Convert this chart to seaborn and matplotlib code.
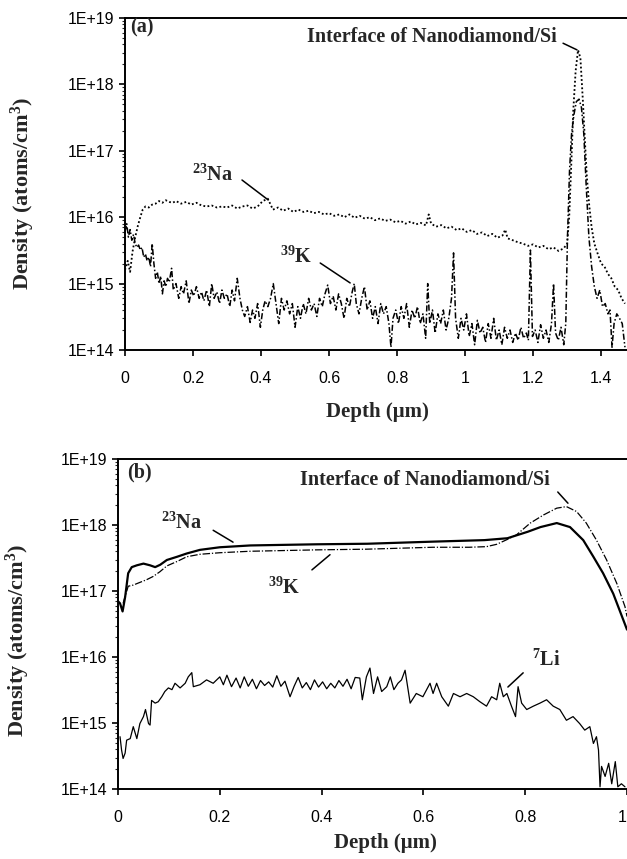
import numpy as np
import matplotlib
matplotlib.use("Agg")
import matplotlib.pyplot as plt
import seaborn as sns
from matplotlib.ticker import LogLocator, NullFormatter

# ---- panel (a): as-deposited film, depth (um) vs density (atoms/cm3) ----
a_na_depth = [0.000, 0.008, 0.015, 0.022, 0.030, 0.038, 0.045, 0.052, 0.060, 0.070, 0.080, 0.090,
              0.100, 0.110, 0.120, 0.130, 0.140, 0.150, 0.165, 0.180, 0.195, 0.210, 0.225, 0.240,
              0.255, 0.270, 0.285, 0.300, 0.315, 0.330, 0.345, 0.360, 0.375, 0.390, 0.405, 0.420,
              0.435, 0.450, 0.465, 0.480, 0.495, 0.510, 0.525, 0.540, 0.555, 0.570, 0.585, 0.600,
              0.615, 0.630, 0.645, 0.660, 0.675, 0.690, 0.705, 0.720, 0.735, 0.750, 0.765, 0.780,
              0.795, 0.810, 0.825, 0.840, 0.855, 0.870, 0.885, 0.893, 0.900, 0.915, 0.930, 0.945,
              0.960, 0.975, 0.990, 1.005, 1.020, 1.035, 1.050, 1.065, 1.080, 1.095, 1.110, 1.118,
              1.125, 1.140, 1.155, 1.170, 1.185, 1.200, 1.215, 1.230, 1.245, 1.260, 1.275, 1.290,
              1.300, 1.306, 1.312, 1.318, 1.325, 1.332, 1.339, 1.346, 1.352, 1.358, 1.365, 1.372,
              1.380, 1.390, 1.400, 1.410, 1.420, 1.430, 1.440, 1.450, 1.460, 1.470]
a_na_dens = [1.6e15, 2.2e15, 1.5e15, 3.0e15, 5.0e15, 7.5e15, 1.0e16, 1.3e16, 1.45e16, 1.4e16, 1.55e16, 1.6e16,
             1.75e16, 1.65e16, 1.8e16, 1.7e16, 1.65e16, 1.75e16, 1.6e16, 1.7e16, 1.55e16, 1.65e16, 1.5e16, 1.45e16,
             1.5e16, 1.4e16, 1.45e16, 1.4e16, 1.5e16, 1.35e16, 1.45e16, 1.5e16, 1.35e16, 1.45e16, 1.75e16, 1.9e16,
             1.3e16, 1.4e16, 1.25e16, 1.35e16, 1.2e16, 1.3e16, 1.2e16, 1.25e16, 1.15e16, 1.2e16, 1.1e16, 1.15e16,
             1.05e16, 1.1e16, 1.0e16, 1.1e16, 9.8e15, 1.05e16, 9.5e15, 1.0e16, 9.0e15, 9.6e15, 8.8e15, 9.2e15,
             8.4e15, 8.8e15, 8.0e15, 8.6e15, 7.8e15, 8.2e15, 7.5e15, 1.1e16, 8.0e15, 7.2e15, 7.6e15, 6.8e15,
             7.2e15, 6.4e15, 6.8e15, 6.0e15, 6.4e15, 5.6e15, 5.9e15, 5.2e15, 5.6e15, 4.9e15, 5.3e15, 6.5e15,
             4.8e15, 4.5e15, 4.2e15, 4.0e15, 3.7e15, 3.9e15, 3.5e15, 3.7e15, 3.3e15, 3.5e15, 3.1e15, 3.4e15,
             4.0e15, 1.0e16, 6.0e16, 4.0e17, 1.6e18, 3.3e18, 2.5e18, 6.0e17, 1.5e17, 4.0e16, 1.5e16, 7.0e15,
             4.0e15, 2.8e15, 2.0e15, 1.8e15, 1.4e15, 1.2e15, 9.0e14, 8.0e14, 6.0e14, 5.0e14]

a_k_depth = [0.000, 0.005, 0.010, 0.015, 0.020, 0.025, 0.030, 0.035, 0.040, 0.045, 0.050, 0.055, 0.060, 0.065,
             0.070, 0.075, 0.080, 0.085, 0.090, 0.095, 0.100, 0.105, 0.110, 0.115, 0.120, 0.125, 0.130,
             0.137, 0.142, 0.150, 0.158, 0.165, 0.172, 0.180, 0.188, 0.195, 0.202, 0.210, 0.218, 0.225,
             0.232, 0.240, 0.248, 0.255, 0.262, 0.270, 0.278, 0.285, 0.292, 0.300, 0.308, 0.315, 0.322,
             0.330, 0.338, 0.345, 0.352, 0.360, 0.368, 0.375, 0.382, 0.390, 0.398, 0.405, 0.412, 0.420,
             0.428, 0.436, 0.444, 0.452, 0.460, 0.468, 0.476, 0.484, 0.492, 0.500, 0.508, 0.516, 0.524,
             0.532, 0.540, 0.548, 0.556, 0.564, 0.572, 0.580, 0.588, 0.596, 0.604, 0.612, 0.620, 0.628,
             0.636, 0.644, 0.652, 0.660, 0.668, 0.674, 0.680, 0.688, 0.696, 0.704, 0.712, 0.720, 0.728,
             0.736, 0.744, 0.752, 0.760, 0.768, 0.776, 0.782, 0.788, 0.796, 0.804, 0.812, 0.820, 0.828,
             0.836, 0.844, 0.852, 0.860, 0.868, 0.876, 0.884, 0.890, 0.896, 0.904, 0.912, 0.920, 0.928,
             0.936, 0.944, 0.952, 0.960, 0.966, 0.972, 0.980, 0.988, 0.996, 1.004, 1.012, 1.020, 1.028,
             1.036, 1.044, 1.052, 1.060, 1.068, 1.076, 1.084, 1.092, 1.100, 1.108, 1.116, 1.124, 1.132,
             1.140, 1.148, 1.156, 1.164, 1.172, 1.180, 1.186, 1.192, 1.198, 1.206, 1.214, 1.222, 1.230,
             1.238, 1.246, 1.254, 1.260, 1.266, 1.274, 1.282, 1.290, 1.296, 1.301, 1.307, 1.313, 1.320,
             1.327, 1.335, 1.342, 1.349, 1.356, 1.364, 1.372, 1.380, 1.388, 1.396, 1.404, 1.412, 1.420,
             1.426, 1.432, 1.438, 1.446, 1.454, 1.462, 1.470]
a_k_dens = [6.0e15, 8.0e15, 5.0e15, 6.5e15, 4.5e15, 5.5e15, 4.0e15, 3.5e15, 3.8e15, 3.2e15, 3.5e15, 2.5e15, 2.8e15, 2.2e15,
            2.5e15, 1.8e15, 4.0e15, 2.0e15, 1.2e15, 1.5e15, 1.0e15, 1.3e15, 7e14, 1.1e15, 9e14, 1.2e15, 1.05e15,
            1.7e15, 8e14, 1.0e15, 6e14, 9e14, 7e14, 1.1e15, 5e14, 8e14, 6.5e14, 9e14, 6e14, 7.5e14,
            5.5e14, 8e14, 4.5e14, 1.0e15, 6e14, 7.5e14, 5e14, 8e14, 6e14, 7e14, 4.5e14, 8e14, 5.5e14,
            1.2e15, 6e14, 4e14, 3.2e14, 4.5e14, 2.6e14, 4e14, 3e14, 5e14, 2.2e14, 4e14, 5.5e14, 4.5e14,
            6e14, 1.0e15, 5e14, 2.5e14, 6e14, 4e14, 5.5e14, 3.5e14, 5e14, 2.2e14, 4.5e14, 3e14, 5e14,
            3.5e14, 6e14, 4e14, 5e14, 3.2e14, 6e14, 4.5e14, 7e14, 9.5e14, 5e14, 6.5e14, 4e14, 7e14,
            5e14, 3e14, 6e14, 4.5e14, 7.5e14, 1.0e15, 5e14, 3.5e14, 6e14, 9e14, 4e14, 5.5e14, 3e14,
            4.5e14, 2.5e14, 5e14, 3.5e14, 4.5e14, 2.5e14, 1.1e14, 3e14, 4e14, 2.5e14, 4.5e14, 3e14, 5e14,
            2.2e14, 4e14, 3e14, 4.5e14, 2.5e14, 3.5e14, 1.5e14, 1.0e15, 2.5e14, 4e14, 1.8e14, 3.5e14, 2.5e14,
            4e14, 2e14, 3e14, 6e14, 2.9e15, 3e14, 1.5e14, 3e14, 2e14, 3.5e14, 1.6e14, 2.5e14, 1.2e14,
            2.8e14, 1.8e14, 2.2e14, 1.3e14, 2.5e14, 1.5e14, 3e14, 1.4e14, 2e14, 1.2e14, 2.2e14, 1.5e14, 2e14,
            1.3e14, 1.8e14, 1.4e14, 2.2e14, 1.5e14, 1.8e14, 1.4e14, 3.2e15, 1.6e14, 2e14, 1.3e14, 2.4e14, 1.5e14,
            2e14, 1.3e14, 2.5e14, 1.0e15, 1.8e14, 1.4e14, 2.2e14, 1.2e14, 2.5e14, 5e15, 5e16, 1.8e17, 3.5e17,
            5.5e17, 6e17, 4.5e17, 1.8e17, 3.0e16, 5e15, 1.8e15, 9e14, 6e14, 8e14, 4.5e14, 5e14, 3.5e14,
            4e14, 1.1e14, 2.5e14, 3.5e14, 3e14, 2.5e14, 1.1e14]

# ---- panel (b) ----
b_na_depth = [0.000, 0.004, 0.009, 0.014, 0.020, 0.027, 0.037, 0.050, 0.063, 0.073, 0.083, 0.096,
              0.116, 0.135, 0.161, 0.200, 0.260, 0.325, 0.390, 0.490, 0.620, 0.720, 0.765, 0.805,
              0.830, 0.862, 0.888, 0.914, 0.934, 0.953, 0.973, 0.993, 1.000]
b_na_dens = [7.0e16, 6.5e16, 4.9e16, 8.1e16, 1.86e17, 2.3e17, 2.45e17, 2.6e17, 2.45e17, 2.3e17, 2.5e17, 2.95e17,
             3.3e17, 3.7e17, 4.2e17, 4.6e17, 4.9e17, 5.0e17, 5.1e17, 5.2e17, 5.6e17, 5.9e17, 6.3e17, 7.9e17,
             9.3e17, 1.07e18, 9.3e17, 5.9e17, 3.3e17, 1.86e17, 9.1e16, 3.6e16, 2.6e16]

b_k_depth = [0.010, 0.020, 0.030, 0.043, 0.056, 0.069, 0.082, 0.096, 0.116, 0.135, 0.161, 0.200,
             0.259, 0.325, 0.390, 0.488, 0.554, 0.619, 0.690, 0.724, 0.744, 0.764, 0.783, 0.810,
             0.836, 0.862, 0.881, 0.901, 0.920, 0.940, 0.960, 0.980, 0.996, 1.000]
b_k_dens = [6.5e16, 1.18e17, 1.23e17, 1.35e17, 1.48e17, 1.66e17, 1.95e17, 2.4e17, 2.8e17, 3.3e17, 3.6e17, 3.8e17,
            4.0e17, 4.1e17, 4.2e17, 4.3e17, 4.45e17, 4.6e17, 4.6e17, 4.7e17, 5.1e17, 6.0e17, 7.1e17, 1.07e18,
            1.42e18, 1.8e18, 1.9e18, 1.6e18, 1.07e18, 5.9e17, 2.95e17, 1.3e17, 5.8e16, 4.1e16]

b_li_depth = [0.004, 0.007, 0.010, 0.014, 0.017, 0.024, 0.030, 0.037, 0.043, 0.050,
              0.054, 0.060, 0.063, 0.066, 0.073, 0.079, 0.086, 0.092, 0.099, 0.106,
              0.112, 0.122, 0.132, 0.138, 0.145, 0.148, 0.161, 0.174, 0.187, 0.200,
              0.207, 0.214, 0.223, 0.232, 0.240, 0.248, 0.256, 0.264, 0.272, 0.280,
              0.288, 0.296, 0.304, 0.312, 0.320, 0.328, 0.338, 0.346, 0.354, 0.362,
              0.370, 0.378, 0.386, 0.394, 0.402, 0.410, 0.418, 0.426, 0.434, 0.442,
              0.450, 0.458, 0.466, 0.475, 0.480, 0.488, 0.495, 0.502, 0.510, 0.518,
              0.528, 0.535, 0.542, 0.550, 0.557, 0.564, 0.574, 0.586, 0.599, 0.613,
              0.619, 0.626, 0.636, 0.649, 0.659, 0.672, 0.685, 0.698, 0.711, 0.724,
              0.734, 0.744, 0.750, 0.757, 0.764, 0.773, 0.781, 0.786, 0.793, 0.803,
              0.816, 0.829, 0.842, 0.855, 0.868, 0.881, 0.894, 0.907, 0.917, 0.927,
              0.934, 0.940, 0.944, 0.947, 0.950, 0.957, 0.964, 0.970, 0.977, 0.982,
              0.989, 0.996]
b_li_dens = [6.2e14, 3.9e14, 2.9e14, 3.5e14, 5.5e14, 5.8e14, 8.8e14, 5.8e14, 9.8e14, 1.25e15,
             1.6e15, 9.8e14, 9.3e14, 2.2e15, 2.0e15, 2.1e15, 2.5e15, 3.0e15, 3.4e15, 3.2e15,
             4.0e15, 3.4e15, 4.0e15, 5.0e15, 5.8e15, 3.55e15, 3.8e15, 4.5e15, 4.0e15, 5.0e15,
             3.8e15, 5.3e15, 3.55e15, 4.8e15, 3.4e15, 5.0e15, 3.6e15, 4.6e15, 3.3e15, 4.4e15,
             3.7e15, 4.2e15, 3.5e15, 5.2e15, 3.6e15, 4.3e15, 2.5e15, 3.6e15, 4.9e15, 3.4e15,
             4.1e15, 3.2e15, 4.5e15, 3.5e15, 4.2e15, 3.3e15, 4.0e15, 3.4e15, 4.4e15, 3.6e15,
             4.6e15, 3.3e15, 4.9e15, 4.8e15, 2.25e15, 5.0e15, 6.8e15, 2.8e15, 5.0e15, 3.0e15,
             3.55e15, 5.0e15, 3.2e15, 4.0e15, 4.5e15, 6.3e15, 2.0e15, 2.8e15, 2.5e15, 4.0e15,
             2.8e15, 4.0e15, 2.5e15, 1.8e15, 2.8e15, 2.5e15, 2.8e15, 2.5e15, 2.1e15, 1.8e15,
             2.5e15, 2.25e15, 4.0e15, 2.5e15, 2.8e15, 1.8e15, 1.25e15, 3.55e15, 2.0e15, 1.6e15,
             1.8e15, 2.0e15, 2.25e15, 1.8e15, 1.6e15, 1.1e15, 1.25e15, 9.8e14, 7.8e14, 8.8e14,
             4.9e14, 6.2e14, 3.9e14, 1.08e14, 2.2e14, 1.55e14, 2.45e14, 1.2e14, 2.6e14, 1.08e14,
             1.2e14, 1.08e14]

y_ticks = [1e14, 1e15, 1e16, 1e17, 1e18, 1e19]
y_tick_labels = ["1E+14", "1E+15", "1E+16", "1E+17", "1E+18", "1E+19"]
a_x_ticks = [0, 0.2, 0.4, 0.6, 0.8, 1.0, 1.2, 1.4]
a_x_tick_labels = ["0", "0.2", "0.4", "0.6", "0.8", "1", "1.2", "1.4"]
b_x_ticks = [0, 0.2, 0.4, 0.6, 0.8, 1.0]
b_x_tick_labels = ["0", "0.2", "0.4", "0.6", "0.8", "1"]

sns.set_theme(style="ticks")
plt.rcParams["font.family"] = ["Liberation Sans", "DejaVu Sans"]
plt.rcParams["mathtext.default"] = "regular"
SERIF = ["Liberation Serif", "DejaVu Serif"]


def style_axes(ax, xticks, xlabels, xmax):
    ax.set_yscale("log")
    ax.set_ylim(1e14, 1e19)
    ax.set_xlim(0, xmax)
    ax.set_yticks(y_ticks, y_tick_labels)
    ax.yaxis.set_minor_locator(LogLocator(base=10, subs=np.arange(2, 10)))
    ax.yaxis.set_minor_formatter(NullFormatter())
    ax.set_xticks(xticks, xlabels)
    ax.tick_params(axis="y", which="major", length=4, width=1.2, pad=4, labelsize=11.5, colors="black")
    ax.tick_params(axis="y", which="minor", length=2.5, width=0.8)
    ax.tick_params(axis="x", which="major", length=4, width=1.2, pad=11, labelsize=11.5, colors="black")
    for side in ["left", "bottom", "top"]:
        ax.spines[side].set_linewidth(1.4)
        ax.spines[side].set_color("black")
    ax.spines["right"].set_visible(False)
    ax.set_xlabel("Depth (μm)", fontsize=15, fontweight="bold", family=SERIF)
    ax.set_ylabel("Density (atoms/cm$^{3}$)", fontsize=16, fontweight="bold", family=SERIF)


def note(ax, x, y, text, ha="left"):
    ax.text(x, y, text, ha=ha, va="center", fontsize=14.5, fontweight="bold", family=SERIF)


def leader(ax, p0, p1):
    ax.annotate("", xy=p1, xytext=p0,
                arrowprops=dict(arrowstyle="-", color="black", lw=1.1, shrinkA=0, shrinkB=0))


fig = plt.figure(figsize=(6.27, 8.59), dpi=100)
ax_a = fig.add_axes([125 / 627, 1 - 350 / 859, 502 / 627, 332 / 859])
ax_b = fig.add_axes([118 / 627, 1 - 789 / 859, 509 / 627, 330 / 859])

# panel (a)
sns.lineplot(x=a_na_depth, y=a_na_dens, ax=ax_a, color="black", lw=1.3,
             linestyle=(0, (1, 1.3)), sort=False, estimator=None)
sns.lineplot(x=a_k_depth, y=a_k_dens, ax=ax_a, color="black", lw=1.1,
             linestyle=(0, (4, 1.5, 1, 1.5)), sort=False, estimator=None)
style_axes(ax_a, a_x_ticks, a_x_tick_labels, 1.476)
ax_a.text(0.01, 0.97, "(a)", transform=ax_a.transAxes, ha="left", va="center",
          fontsize=14.5, fontweight="bold", family=SERIF)
note(ax_a, 1.27, 10 ** 18.71, "Interface of Nanodiamond/Si", ha="right")
leader(ax_a, (1.288, 10 ** 18.62), (1.329, 10 ** 18.52))
note(ax_a, 0.318, 10 ** 16.64, "$^{23}$Na", ha="right")
leader(ax_a, (0.344, 10 ** 16.56), (0.421, 10 ** 16.26))
note(ax_a, 0.55, 10 ** 15.40, "$^{39}$K", ha="right")
leader(ax_a, (0.574, 10 ** 15.31), (0.662, 10 ** 15.01))
ax_a.yaxis.set_label_coords(-0.175, 0.47)
ax_a.xaxis.set_label_coords(0.503, -0.157)

# panel (b)
sns.lineplot(x=b_na_depth, y=b_na_dens, ax=ax_b, color="black", lw=1.6,
             sort=False, estimator=None)
sns.lineplot(x=b_k_depth, y=b_k_dens, ax=ax_b, color="black", lw=0.9,
             linestyle=(0, (6, 1.5, 1, 1.5)), sort=False, estimator=None)
sns.lineplot(x=b_li_depth, y=b_li_dens, ax=ax_b, color="black", lw=0.9,
             sort=False, estimator=None)
style_axes(ax_b, b_x_ticks, b_x_tick_labels, 1.0)
# last tick label sits on the figure edge; keep it inside
ax_b.get_xticklabels()[-1].set_horizontalalignment("right")
ax_b.text(0.018, 0.96, "(b)", transform=ax_b.transAxes, ha="left", va="center",
          fontsize=14.5, fontweight="bold", family=SERIF)
note(ax_b, 0.849, 10 ** 18.68, "Interface of Nanodiamond/Si", ha="right")
leader(ax_b, (0.864, 10 ** 18.50), (0.884, 10 ** 18.33))
note(ax_b, 0.165, 10 ** 18.03, "$^{23}$Na", ha="right")
leader(ax_b, (0.187, 10 ** 17.92), (0.226, 10 ** 17.74))
note(ax_b, 0.358, 10 ** 17.05, "$^{39}$K", ha="right")
leader(ax_b, (0.381, 10 ** 17.32), (0.4165, 10 ** 17.55))
note(ax_b, 0.813, 10 ** 15.95, "$^{7}$Li", ha="left")
leader(ax_b, (0.766, 10 ** 15.545), (0.796, 10 ** 15.76))
ax_b.yaxis.set_label_coords(-0.169, 0.45)
ax_b.xaxis.set_label_coords(0.525, -0.133)

fig.savefig("out.png", dpi=100, facecolor="white")
